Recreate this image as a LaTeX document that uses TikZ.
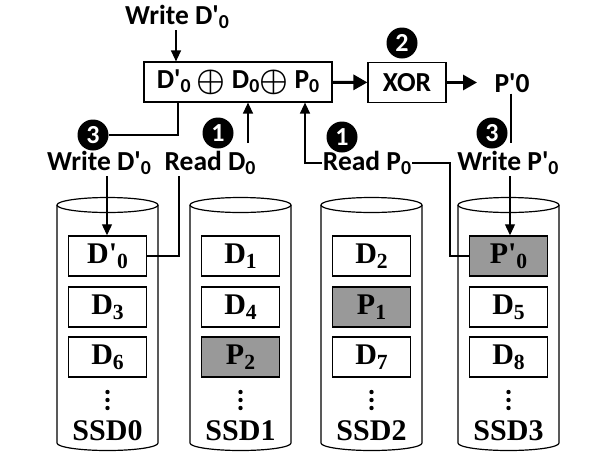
\documentclass[tikz,border=0pt]{standalone}
\usepackage{amsmath}
\usepackage{fontspec}
\setmainfont{Liberation Serif}
\newfontfamily\labelfont{Carlito}
\usetikzlibrary{arrows.meta}
\definecolor{cellgray}{rgb}{0.6,0.6,0.6}
\newcommand{\low}[1]{\raisebox{-0.35ex}{\scalebox{0.72}{#1}}}
\newcommand{\pr}{\textquotesingle}
\newcommand{\xo}{\raisebox{-0.15ex}{\scalebox{1.3}{$\boldsymbol{\oplus}$}}}

\tikzset{
	lab/.style={font=\labelfont\bfseries\fontsize{27.5}{29}\selectfont, inner sep=1pt},
	cell/.style={draw, line width=1.5pt, minimum width=78pt, minimum height=40pt, inner sep=0pt, font=\bfseries\fontsize{30}{31}\selectfont},
	parity/.style={cell, fill=cellgray},
	num/.style={circle, fill=black, text=white, minimum size=31pt, inner sep=0pt, font=\labelfont\bfseries\fontsize{26}{26}\selectfont},
	opbox/.style={draw, line width=1.2pt, minimum height=40pt, inner sep=0pt, lab},
	thin/.style={line width=1.3pt, -{Triangle[length=11pt,width=10pt]}},
	thick/.style={line width=3pt, -{Triangle[length=14pt,width=15pt]}},
}

\begin{document}
\begin{tikzpicture}[x=1pt,y=-1pt]
		\useasboundingbox (0,0) rectangle (599,469);
		% disks
		\foreach \x/\n in {57/0,190/1,321/2,458/3}{
			\draw[line width=1.2pt] (\x,205) -- (\x,443) arc[start angle=180,end angle=360,x radius=50.5pt,y radius=7.5pt] -- (\x+101,205);
			\draw[line width=1.2pt] (\x+50.5,205) ellipse[x radius=50.5pt,y radius=7.5pt];
			\foreach \d in {392,400,408}
				\fill (\x+50.5,\d) circle (2.2pt);
			\node[font=\bfseries\fontsize{30}{31}\selectfont] (ssd\n) at (\x+50.5,431) {SSD\n};
		}
		% blocks
		\node[cell] (d0new) at (107.5,256) {D\pr\low{0}};
		\node[cell] at (107.5,307) {D\low{3}};
		\node[cell] at (107.5,357) {D\low{6}};
		\node[cell] at (240.5,256) {D\low{1}};
		\node[cell] at (240.5,307) {D\low{4}};
		\node[parity] at (240.5,357) {P\low{2}};
		\node[cell] at (371.5,256) {D\low{2}};
		\node[parity] at (371.5,307) {P\low{1}};
		\node[cell] at (371.5,357) {D\low{7}};
		\node[parity] (p0new) at (508.5,256) {P\pr\low{0}};
		\node[cell] at (508.5,307) {D\low{5}};
		\node[cell] at (508.5,357) {D\low{8}};
		% parity update
		\node[lab] (wtop) at (177,17) {Write D\pr\low{0}};
		\node[opbox, minimum width=188pt] (sum) at (238,82) {D\pr\low{0} \xo{} D\low{0}\xo{} P\low{0}};
		\node[opbox, minimum width=78pt] (xor) at (407,82.5) {XOR};
		\node[lab] (pout) at (512,83) {P\pr0};
		\node[num] (n2) at (402,43) {2};
		\node[num] (n3a) at (93,135) {3};
		\node[num] (n1a) at (218,133) {1};
		\node[num] (n1b) at (342,137) {1};
		\node[num] (n3b) at (492,133) {3};
		\node[lab] (wd0) at (99,163) {Write D\pr\low{0}};
		\node[lab] (rd0) at (210,163) {Read D\low{0}};
		\node[lab] (rp0) at (367,163) {Read P\low{0}};
		\node[lab] (wp0) at (508,163) {Write P\pr\low{0}};
		\coordinate (up1) at (248,143);
		\coordinate (cut) at (511,143);
		% connectors
		\draw[thin] (wtop.south -| 176,0) -- (sum.north -| 176,0);
		\draw[line width=1.3pt] (sum.south -| 178,0) -- (178,135) -- (n3a.east);
		\draw[thin] (up1) -- (sum.south -| up1);
		\draw[thin] (rp0.west) -- (305,163) -- (sum.south -| 305,0);
		\draw[line width=1.3pt] (rp0.east) -- (450,163) -- (450,256) -- (p0new.west);
		\draw[thick] (sum) -- (xor);
		\draw[thick] (xor.east) -- (477,82.5);
		\draw[line width=1.3pt] (pout.south -| cut) -- (cut);
		\draw[thin] (wp0.south -| 510,0) -- (p0new.north -| 510,0);
		\draw[thin] (wd0.south -| 107,0) -- (d0new.north -| 107,0);
		\draw[line width=1.3pt] (rd0.south -| 179,0) -- (179,256) -- (d0new.east);
	\end{tikzpicture}
\end{document}
